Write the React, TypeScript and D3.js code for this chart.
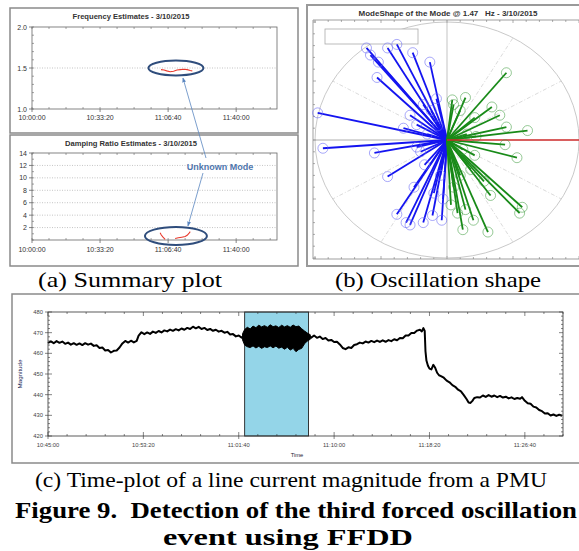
import React from "react";
import * as d3 from "d3";

const W = 579;
const H = 551;
const SANS = "'Liberation Sans', Arial, sans-serif";
const SERIF = "'Liberation Serif', 'Times New Roman', serif";

// ---------------- (a) Summary plot ----------------
// time in seconds after 10:00:00
const summaryTimeTicks = [0, 2000, 4000, 6000];
const summaryTimeLabels = ["10:00:00", "10:33:20", "11:06:40", "11:40:00"];
const freqTicks = [1.0, 1.5, 2.0];
const freqTickLabels = ["1.0", "1.5", "2.0"];
const freqT = [3790, 3880, 3960, 4060, 4160, 4260, 4360, 4460, 4560, 4650, 4710];
const freqV = [1.48, 1.475, 1.465, 1.455, 1.46, 1.475, 1.48, 1.485, 1.48, 1.47, 1.465];
const dampTicks = [2, 4, 6, 8, 10, 12, 14];
const dampT1 = [3765, 3800, 3850, 3912];
const dampV1 = [1.15, 0.8, 0.45, 0.1];
const dampT2 = [4206, 4300, 4400, 4500, 4560, 4610, 4650];
const dampV2 = [0.25, 0.35, 0.45, 0.55, 0.75, 1.05, 1.35];
const freqMark = { t: 4230, v: 1.5 };
const dampMark = { t: 4230, v: 0.65 };

// ---------------- (b) Oscillation shape ----------------
const blueRe = [-0.61, -0.52, -0.38, -0.26, -0.13, -0.53, -0.98, -0.28, -0.23, -0.94, -0.55, -0.45, -0.38, -0.31, -0.28, -0.18, -0.04, -0.11, -0.23, -0.17, -0.58, -0.45, -0.12, -0.08, -0.15, -0.2, -0.05, -0.1, -0.03, -0.18, -0.25, -0.33, -0.07];
const blueIm = [0.78, 0.66, 0.81, 0.74, 0.66, 0.53, 0.23, 0.21, 0.13, -0.07, -0.11, -0.31, -0.63, -0.7, -0.72, -0.7, -0.68, -0.64, -0.06, -0.21, 0.72, 0.78, 0.25, 0.35, 0.05, -0.1, -0.3, -0.45, -0.5, 0.3, -0.4, 0.1, 0.12];
const greenRe = [0.45, 0.14, 0.34, 0.4, 0.45, 0.61, 0.04, 0.21, 0.44, 0.53, 0.21, 0.33, 0.57, 0.55, 0.31, 0.12, 0.2, 0.08, 0.14, 0.05, 0.1, 0.15, 0.12, 0.05, 0.03, 0.1, 0.22, 0.18, 0.28];
const greenIm = [0.57, 0.36, 0.28, 0.21, 0.11, 0.08, 0.34, 0.19, -0.04, -0.15, -0.13, -0.47, -0.57, -0.62, -0.78, -0.76, -0.68, -0.62, -0.59, 0.3, 0.25, 0.05, -0.08, -0.4, -0.55, -0.3, 0.03, -0.25, -0.35];
const redRe = [1.0];
const redIm = [0.0];
const gridAngles = [30, 60, 120, 150, 210, 240, 300, 330];

// ---------------- (c) Time plot ----------------
// time in seconds after 10:45:00
const plotTimeTicks = [0, 500, 1000, 1500, 2000, 2500];
const plotTimeLabels = ["10:45:00", "10:53:20", "11:01:40", "11:10:00", "11:18:20", "11:26:40"];
const magTicks = [420, 430, 440, 450, 460, 470, 480];
const preT = [0, 15, 30, 45, 60, 75, 90, 105, 120, 135, 150, 165, 180, 195, 210, 225, 240, 255, 270, 285, 300, 315, 330, 345, 360, 375, 390, 405, 420, 435, 450, 465, 475, 490, 505, 520, 535, 550, 565, 580, 595, 610, 625, 640, 655, 670, 685, 700, 715, 730, 745, 760, 775, 790, 805, 820, 835, 850, 865, 880, 895, 910, 925, 940, 955, 970, 985, 1000, 1015, 1031];
const preV = [465.0, 465.8, 464.9, 465.9, 465.1, 465.7, 464.6, 465.2, 464.2, 464.9, 464.1, 464.8, 464.0, 464.9, 464.2, 464.7, 463.6, 463.9, 462.6, 462.8, 461.4, 461.6, 460.4, 461.2, 461.4, 462.8, 464.8, 466.0, 465.2, 466.1, 465.3, 466.0, 468.6, 470.2, 469.3, 470.1, 469.4, 470.5, 469.9, 470.8, 470.1, 471.1, 470.6, 471.5, 470.9, 471.7, 471.1, 472.0, 471.4, 472.3, 471.8, 472.9, 472.1, 472.8, 471.8, 472.3, 471.3, 471.8, 470.9, 471.4, 470.5, 470.9, 470.0, 470.4, 469.1, 469.3, 468.2, 468.6, 467.6, 468.2];
const bandT = [1020, 1031, 1045, 1060, 1075, 1090, 1105, 1120, 1135, 1150, 1165, 1180, 1195, 1210, 1225, 1240, 1255, 1270, 1285, 1300, 1315, 1330, 1345, 1360, 1375];
const bandHi = [469.5, 471.5, 472.6, 471.8, 473.2, 472.4, 473.6, 472.8, 473.4, 472.6, 473.8, 472.9, 473.3, 472.5, 473.6, 472.8, 473.4, 472.6, 473.7, 472.9, 473.2, 471.9, 470.8, 469.8, 469.0];
const bandLo = [466.5, 464.0, 463.2, 462.8, 463.6, 462.6, 463.4, 462.4, 463.2, 462.8, 463.6, 462.7, 463.5, 462.5, 463.0, 462.0, 462.9, 461.6, 462.4, 460.8, 461.9, 462.4, 464.6, 466.0, 466.8];
const postT = [1366, 1380, 1395, 1410, 1425, 1440, 1455, 1470, 1485, 1500, 1515, 1530, 1545, 1560, 1575, 1590, 1605, 1620, 1635, 1650, 1665, 1680, 1695, 1710, 1725, 1740, 1755, 1770, 1785, 1800, 1815, 1830, 1845, 1860, 1875, 1890, 1905, 1920, 1935, 1950, 1960, 1968, 1975, 1979, 1984, 1992, 2000, 2010, 2020, 2030, 2040, 2050, 2060, 2075, 2090, 2105, 2120, 2135, 2150, 2165, 2180, 2195, 2205, 2215, 2225, 2235, 2250, 2265, 2280, 2295, 2310, 2325, 2340, 2355, 2370, 2385, 2400, 2415, 2430, 2445, 2460, 2475, 2485, 2500, 2515, 2530, 2545, 2560, 2575, 2590, 2605, 2620, 2635, 2650, 2665, 2680, 2695];
const postV = [468.4, 467.6, 468.6, 467.5, 468.1, 466.9, 467.4, 466.2, 466.5, 465.5, 465.6, 464.3, 462.6, 462.0, 462.9, 462.6, 464.0, 464.4, 465.2, 464.8, 465.7, 465.2, 466.0, 465.4, 466.2, 465.5, 466.3, 465.6, 466.4, 465.9, 466.8, 466.3, 467.4, 467.3, 468.6, 468.6, 469.8, 469.8, 471.0, 471.4, 470.6, 472.2, 470.8, 461.0, 456.5, 454.0, 452.6, 452.2, 454.4, 453.0, 450.6, 449.4, 449.0, 448.2, 446.8, 446.0, 444.6, 443.8, 442.4, 441.6, 439.8, 437.8, 436.2, 436.0, 437.0, 438.4, 438.8, 438.6, 439.6, 438.9, 439.8, 439.0, 439.6, 438.8, 439.4, 438.6, 439.0, 438.2, 438.7, 437.9, 438.4, 438.0, 438.8, 437.0, 435.8, 435.6, 434.2, 433.8, 432.6, 432.0, 430.9, 431.0, 429.9, 430.4, 429.7, 430.3, 429.8];
const eventWindow = [1031, 1366];

function SummaryPanel() {
  const x = d3.scaleLinear().domain([0, 7200]).range([32, 277]);
  const yF = d3.scaleLinear().domain([1, 2]).range([109, 27]);
  const yD = d3.scaleLinear().domain([0, 14]).range([240, 153]);
  const lineF = d3.line<number>().x((_, i) => x(freqT[i])).y((d) => yF(d));
  const lineD1 = d3.line<number>().x((_, i) => x(dampT1[i])).y((d) => yD(d));
  const lineD2 = d3.line<number>().x((_, i) => x(dampT2[i])).y((d) => yD(d));
  const minorX = d3.range(0, 7201, 500);
  const minorF = d3.range(1, 2.001, 0.1);
  const minorD = d3.range(0, 14.01, 1);
  const axisCol = "#666";
  const labCol = "#333";
  const arrowCol = "#5b86c0";
  const fE = { cx: x(freqMark.t), cy: yF(freqMark.v) };
  const dE = { cx: x(dampMark.t), cy: yD(dampMark.v) };
  return (
    <g>
      <rect x={10} y={8} width={288} height={125} fill="#fff" stroke="#8a8a8a" strokeWidth={1.5} />
      <rect x={10} y={135} width={288} height={131} fill="#fff" stroke="#8a8a8a" strokeWidth={1.5} />
      <text x={131} y={19} textAnchor="middle" fontFamily={SANS} fontWeight="bold" fontSize={7.6} fill={labCol}>Frequency Estimates - 3/10/2015</text>
      <line x1={x(0)} x2={x(7200)} y1={yF(1.5)} y2={yF(1.5)} stroke="#aaa" strokeWidth={0.7} strokeDasharray="1,1.5" />
      <rect x={x(0)} y={yF(2)} width={x(7200) - x(0)} height={yF(1) - yF(2)} fill="none" stroke={axisCol} strokeWidth={0.8} />
      {minorX.map((t) => (
        <g key={"fx" + t}>
          <line x1={x(t)} x2={x(t)} y1={yF(1)} y2={yF(1) - 2} stroke={axisCol} strokeWidth={0.6} />
          <line x1={x(t)} x2={x(t)} y1={yF(2)} y2={yF(2) + 2} stroke={axisCol} strokeWidth={0.6} />
        </g>
      ))}
      {minorF.map((v, i) => (
        <line key={"fy" + i} x1={x(0)} x2={x(0) + 2} y1={yF(v)} y2={yF(v)} stroke={axisCol} strokeWidth={0.6} />
      ))}
      {summaryTimeTicks.map((t) => (
        <line key={"fM" + t} x1={x(t)} x2={x(t)} y1={yF(1)} y2={yF(1) + 3} stroke={axisCol} strokeWidth={0.8} />
      ))}
      {freqTicks.map((v, i) => (
        <g key={"fl" + i}>
          <line x1={x(0) - 3} x2={x(0)} y1={yF(v)} y2={yF(v)} stroke={axisCol} strokeWidth={0.8} />
          <text x={x(0) - 5} y={yF(v) + 2.5} textAnchor="end" fontFamily={SANS} fontSize={7} fill={labCol}>{freqTickLabels[i]}</text>
        </g>
      ))}
      {summaryTimeTicks.map((t, i) => (
        <text key={"ftl" + t} x={x(t)} y={120} textAnchor="middle" fontFamily={SANS} fontSize={7} fill={labCol}>{summaryTimeLabels[i]}</text>
      ))}
      <path d={lineF(freqV) || ""} fill="none" stroke="#e8392c" strokeWidth={1.1} />
      <ellipse cx={fE.cx} cy={fE.cy} rx={27.5} ry={7.5} fill="none" stroke="#2f4d7c" strokeWidth={2} />

      <text x={131} y={146} textAnchor="middle" fontFamily={SANS} fontWeight="bold" fontSize={7.6} fill={labCol}>Damping Ratio Estimates - 3/10/2015</text>
      {dampTicks.slice(0, -1).map((v) => (
        <line key={"dg" + v} x1={x(0)} x2={x(7200)} y1={yD(v)} y2={yD(v)} stroke="#aaa" strokeWidth={0.7} strokeDasharray="1,1.5" />
      ))}
      <rect x={x(0)} y={yD(14)} width={x(7200) - x(0)} height={yD(0) - yD(14)} fill="none" stroke={axisCol} strokeWidth={0.8} />
      {minorX.map((t) => (
        <g key={"dx" + t}>
          <line x1={x(t)} x2={x(t)} y1={yD(0)} y2={yD(0) - 2} stroke={axisCol} strokeWidth={0.6} />
          <line x1={x(t)} x2={x(t)} y1={yD(14)} y2={yD(14) + 2} stroke={axisCol} strokeWidth={0.6} />
        </g>
      ))}
      {minorD.map((v) => (
        <line key={"dy" + v} x1={x(0)} x2={x(0) + 2} y1={yD(v)} y2={yD(v)} stroke={axisCol} strokeWidth={0.6} />
      ))}
      {summaryTimeTicks.map((t) => (
        <line key={"dM" + t} x1={x(t)} x2={x(t)} y1={yD(0)} y2={yD(0) + 3} stroke={axisCol} strokeWidth={0.8} />
      ))}
      {dampTicks.map((v) => (
        <g key={"dl" + v}>
          <line x1={x(0) - 3} x2={x(0)} y1={yD(v)} y2={yD(v)} stroke={axisCol} strokeWidth={0.8} />
          <text x={x(0) - 5} y={yD(v) + 2.5} textAnchor="end" fontFamily={SANS} fontSize={7} fill={labCol}>{v}</text>
        </g>
      ))}
      {summaryTimeTicks.map((t, i) => (
        <text key={"dtl" + t} x={x(t)} y={252} textAnchor="middle" fontFamily={SANS} fontSize={7} fill={labCol}>{summaryTimeLabels[i]}</text>
      ))}
      <path d={lineD1(dampV1) || ""} fill="none" stroke="#e8392c" strokeWidth={1.1} />
      <path d={lineD2(dampV2) || ""} fill="none" stroke="#e8392c" strokeWidth={1.1} />
      <ellipse cx={dE.cx} cy={dE.cy} rx={31} ry={9} fill="none" stroke="#2f4d7c" strokeWidth={2} />

      <text x={220} y={170} textAnchor="middle" fontFamily={SANS} fontWeight="bold" fontSize={9} fill="#4f76ad">Unknown Mode</text>
      <line x1={206} y1={158} x2={fE.cx + 7} y2={fE.cy + 10} stroke={arrowCol} strokeWidth={0.8} markerEnd="url(#arrowA)" />
      <line x1={203} y1={173} x2={dE.cx + 12} y2={dE.cy - 10} stroke={arrowCol} strokeWidth={0.8} markerEnd="url(#arrowA)" />
    </g>
  );
}

function ShapePanel() {
  const cx = 447;
  const cy = 140;
  const x = d3.scaleLinear().domain([-1, 1]).range([cx - 132, cx + 132]);
  const y = d3.scaleLinear().domain([-1, 1]).range([cy + 118, cy - 118]);
  const ticksX = d3.range(-1.0, 1.001, 0.1);
  const ticksY = d3.range(-1.0, 1.001, 0.1);
  const frameL = 313;
  const frameT = 20;
  const frameB = 259;
  const rad = (a: number) => (a * Math.PI) / 180;
  const blueStroke = "#1414f0";
  const greenStroke = "#188a18";
  return (
    <g>
      <defs>
        <clipPath id="clipB">
          <rect x={307} y={5} width={W - 307} height={261} />
        </clipPath>
      </defs>
      <rect x={307} y={5} width={W - 307 + 5} height={261} fill="#fff" stroke="#9a9a9a" strokeWidth={2} />
      <g clipPath="url(#clipB)">
        <text x={448} y={16} textAnchor="middle" fontFamily={SANS} fontWeight="bold" fontSize={8} fill="#333">ModeShape of the Mode @ 1.47{"\u00a0\u00a0\u00a0"}Hz - 3/10/2015</text>
        <line x1={frameL} x2={W} y1={frameT} y2={frameT} stroke="#777" strokeWidth={0.7} />
        <line x1={frameL} x2={W} y1={frameB} y2={frameB} stroke="#777" strokeWidth={0.7} />
        <line x1={frameL} x2={frameL} y1={frameT} y2={frameB} stroke="#777" strokeWidth={0.7} />
        {ticksX.map((t, i) => (
          <g key={"bx" + i}>
            <line x1={x(t)} x2={x(t)} y1={frameT} y2={frameT + (i % 5 === 0 ? 3 : 2)} stroke="#777" strokeWidth={0.6} />
            <line x1={x(t)} x2={x(t)} y1={frameB} y2={frameB - (i % 5 === 0 ? 3 : 2)} stroke="#777" strokeWidth={0.6} />
          </g>
        ))}
        {ticksY.map((t, i) => (
          <line key={"by" + i} x1={frameL} x2={frameL + (i % 5 === 0 ? 3 : 2)} y1={y(t)} y2={y(t)} stroke="#777" strokeWidth={0.6} />
        ))}
        <ellipse cx={x(0)} cy={y(0)} rx={x(1) - x(0)} ry={y(0) - y(1)} fill="none" stroke="#bbb" strokeWidth={0.8} />
        {gridAngles.map((a) => (
          <line key={"ga" + a} x1={x(0)} y1={y(0)} x2={x(Math.cos(rad(a)))} y2={y(Math.sin(rad(a)))} stroke="#ccc" strokeWidth={0.7} strokeDasharray="4,2,1,2" />
        ))}
        <line x1={x(0)} x2={x(0)} y1={frameT} y2={frameB} stroke="#aaa" strokeWidth={0.7} />
        <line x1={frameL} x2={x(0)} y1={y(0)} y2={y(0)} stroke="#999" strokeWidth={0.8} />
        <rect x={325} y={29} width={93} height={15} fill="#fff" stroke="#aaa" strokeWidth={0.8} />
        {blueRe.map((re, i) => (
          <line key={"bl" + i} x1={x(0)} y1={y(0)} x2={x(re)} y2={y(blueIm[i])} stroke={blueStroke} strokeWidth={1.8} />
        ))}
        {greenRe.map((re, i) => (
          <line key={"gl" + i} x1={x(0)} y1={y(0)} x2={x(re)} y2={y(greenIm[i])} stroke={greenStroke} strokeWidth={1.8} />
        ))}
        {redRe.map((re, i) => (
          <line key={"rl" + i} x1={x(0)} y1={y(0)} x2={x(re)} y2={y(redIm[i])} stroke="#cc2a2a" strokeWidth={1.6} />
        ))}
        {blueRe.map((re, i) => (
          <circle key={"bc" + i} cx={x(re)} cy={y(blueIm[i])} r={5} fill="none" stroke="#6a6af5" strokeOpacity={0.65} strokeWidth={0.9} />
        ))}
        {greenRe.map((re, i) => (
          <circle key={"gc" + i} cx={x(re)} cy={y(greenIm[i])} r={5} fill="none" stroke="#3c9a3c" strokeOpacity={0.6} strokeWidth={0.9} />
        ))}
      </g>
    </g>
  );
}

function TimePanel() {
  const x = d3.scaleLinear().domain([0, 2700]).range([48, 563]);
  const y = d3.scaleLinear().domain([420, 480]).range([436, 312]);
  const linePre = d3.line<number>().x((_, i) => x(preT[i])).y((d) => y(d));
  const linePost = d3.line<number>().x((_, i) => x(postT[i])).y((d) => y(d));
  const band = d3
    .area<number>()
    .x((_, i) => x(bandT[i]))
    .y0((_, i) => y(bandLo[i]))
    .y1((d) => y(d));
  const minorX = d3.range(0, 2701, 100);
  const minorY = d3.range(420, 480.01, 2);
  const axisCol = "#333";
  const labCol = "#444";
  return (
    <g>
      <rect x={12} y={294} width={W - 12 + 5} height={169} fill="#fff" stroke="#8a8a8a" strokeWidth={1.5} />
      <rect x={x(eventWindow[0])} y={y(480)} width={x(eventWindow[1]) - x(eventWindow[0])} height={y(420) - y(480)} fill="#94d5e8" stroke="#222" strokeWidth={0.9} />
      <path d={linePre(preV) || ""} fill="none" stroke="#000" strokeWidth={2} strokeLinejoin="round" />
      <path d={band(bandHi) || ""} fill="#000" stroke="#000" strokeWidth={1} />
      <path d={linePost(postV) || ""} fill="none" stroke="#000" strokeWidth={2} strokeLinejoin="round" />
      <rect x={x(0)} y={y(480)} width={x(2700) - x(0)} height={y(420) - y(480)} fill="none" stroke={axisCol} strokeWidth={0.8} />
      {minorX.map((t) => {
        const major = t % 500 === 0;
        return (
          <g key={"cx" + t}>
            <line x1={x(t)} x2={x(t)} y1={y(420)} y2={y(420) - (major ? 4 : 2)} stroke={axisCol} strokeWidth={0.6} />
            <line x1={x(t)} x2={x(t)} y1={y(480)} y2={y(480) + (major ? 4 : 2)} stroke={axisCol} strokeWidth={0.6} />
            {major && <line x1={x(t)} x2={x(t)} y1={y(420)} y2={y(420) + 3} stroke={axisCol} strokeWidth={0.6} />}
          </g>
        );
      })}
      {minorY.map((v) => {
        const major = v % 10 === 0;
        return (
          <g key={"cy" + v}>
            <line x1={x(0)} x2={x(0) + (major ? 4 : 2)} y1={y(v)} y2={y(v)} stroke={axisCol} strokeWidth={0.6} />
            <line x1={x(2700)} x2={x(2700) - (major ? 4 : 2)} y1={y(v)} y2={y(v)} stroke={axisCol} strokeWidth={0.6} />
            {major && <line x1={x(0) - 3} x2={x(0)} y1={y(v)} y2={y(v)} stroke={axisCol} strokeWidth={0.6} />}
          </g>
        );
      })}
      {magTicks.map((v) => (
        <text key={"ml" + v} x={x(0) - 5} y={y(v) + 2} textAnchor="end" fontFamily={SANS} fontSize={5.8} fill={labCol}>{v}</text>
      ))}
      {plotTimeTicks.map((t, i) => (
        <text key={"tl" + t} x={x(t)} y={447} textAnchor="middle" fontFamily={SANS} fontSize={5.8} fill={labCol}>{plotTimeLabels[i]}</text>
      ))}
      <text x={297} y={457} textAnchor="middle" fontFamily={SANS} fontSize={5.8} fill="#223">Time</text>
      <text transform={`translate(22,374) rotate(-90)`} textAnchor="middle" fontFamily={SANS} fontSize={6.2} fill="#1f2d5a">Magnitude</text>
    </g>
  );
}

export default function App() {
  return (
    <svg width={W} height={H} viewBox={`0 0 ${W} ${H}`} style={{ position: "absolute", left: 0, top: 0, background: "#fff" }}>
      <defs>
        <marker id="arrowA" viewBox="0 0 10 10" refX="9" refY="5" markerWidth="6" markerHeight="6" orient="auto-start-reverse">
          <path d="M0,1 L10,5 L0,9 z" fill="#5b86c0" />
        </marker>
      </defs>
      <rect x={0} y={0} width={W} height={H} fill="#fff" />
      <SummaryPanel />
      <ShapePanel />
      <TimePanel />
      <text x={130} y={287} textAnchor="middle" fontFamily={SERIF} fontSize={22} textLength={184} lengthAdjust="spacingAndGlyphs" fill="#000">(a) Summary plot</text>
      <text x={438} y={287} textAnchor="middle" fontFamily={SERIF} fontSize={22} textLength={206} lengthAdjust="spacingAndGlyphs" fill="#000">(b) Oscillation shape</text>
      <text x={291} y={487} textAnchor="middle" fontFamily={SERIF} fontSize={22} textLength={512} lengthAdjust="spacingAndGlyphs" fill="#000">(c) Time-plot of a line current magnitude from a PMU</text>
      <text x={296} y={518} textAnchor="middle" fontFamily={SERIF} fontWeight="bold" fontSize={24} textLength={562} lengthAdjust="spacingAndGlyphs" fill="#000">Figure 9.{"\u00a0\u00a0"}Detection of the third forced oscillation</text>
      <text x={288} y={545} textAnchor="middle" fontFamily={SERIF} fontWeight="bold" fontSize={24} textLength={250} lengthAdjust="spacingAndGlyphs" fill="#000">event using FFDD</text>
    </svg>
  );
}
